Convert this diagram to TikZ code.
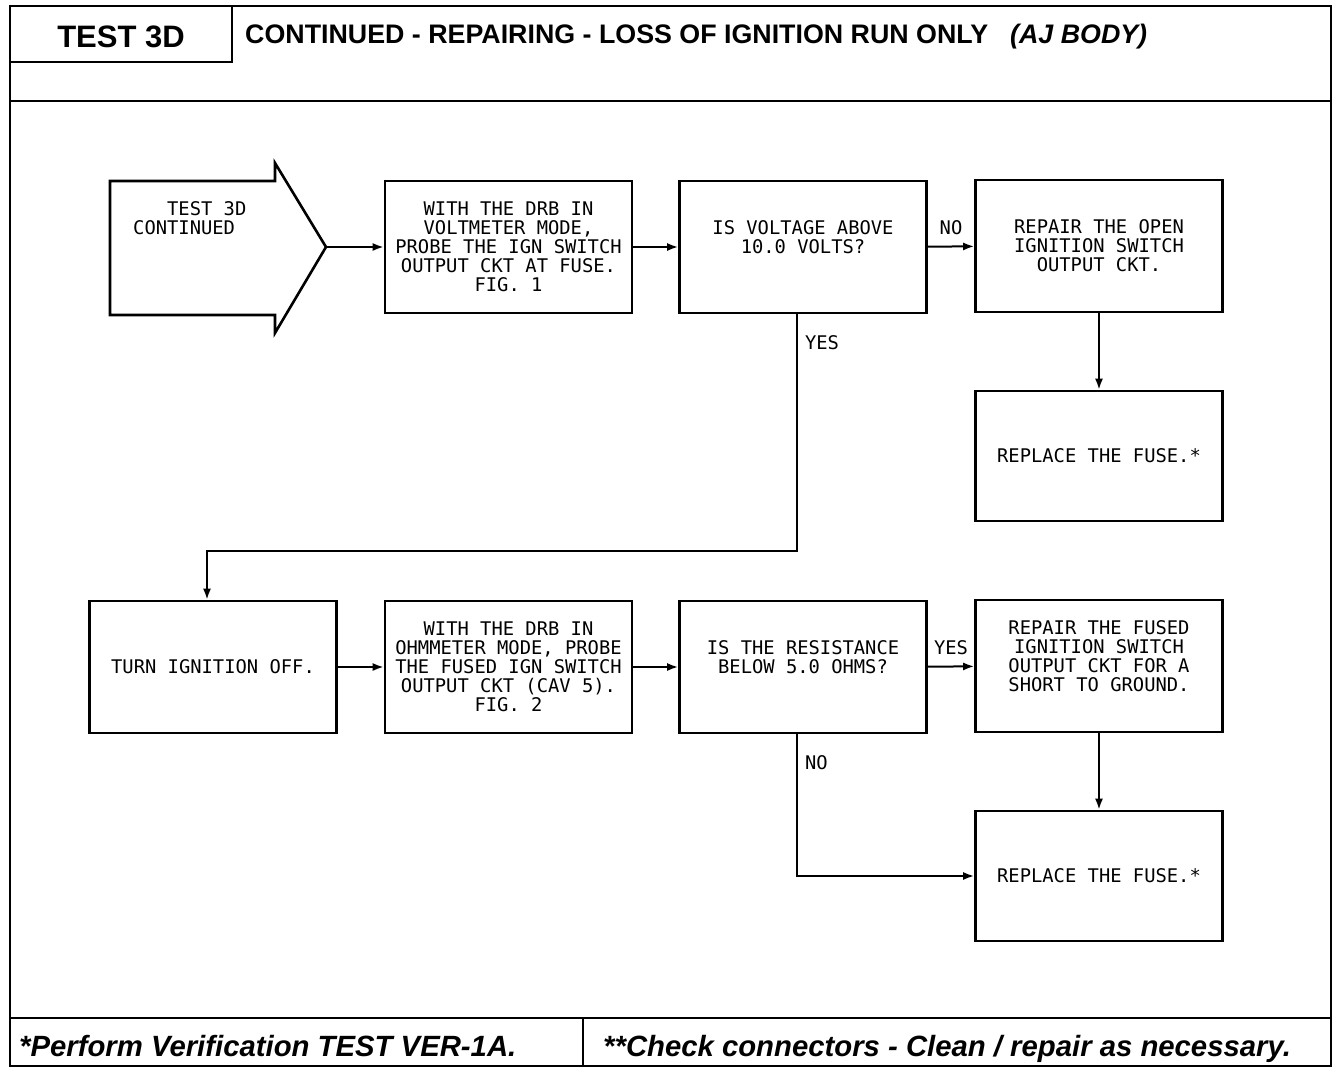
\documentclass[tikz,border=0pt]{standalone}
\usepackage{fontspec}
\usepackage{tikz}
\usetikzlibrary{arrows.meta}
\newfontfamily\plotfont{DejaVu Sans Mono}
\newfontfamily\headfont{Liberation Sans}

\begin{document}
\begin{tikzpicture}[x=1pt, y=-1pt,
  chart/.style={draw, line width=2.6pt, minimum width=247pt, minimum height=132pt, align=center, inner sep=0pt, font=\plotfont\fontsize{18.8}{19}\selectfont},
  flow/.style={line width=2pt, -{Latex[length=11pt, width=8pt]}},
  lbl/.style={inner sep=0pt, font=\plotfont\fontsize{18.8}{19}\selectfont},
  frame/.style={line width=2.6pt},
  title/.style={inner sep=0pt, anchor=base west, font=\headfont\bfseries\fontsize{26.8}{28}\selectfont},
  foot/.style={inner sep=0pt, anchor=base west, font=\headfont\bfseries\itshape\fontsize{29.3}{30}\selectfont}]
  \useasboundingbox (0,0) rectangle (1344,1076);
  \draw[frame] (10,6) rectangle (1331,1066);
  \draw[frame] (10,101) -- (1331,101);
  \draw[frame] (10,1018) -- (1331,1018);
  \draw[frame] (232,6) -- (232,62) -- (10,62);
  \draw[frame] (583,1018) -- (583,1066);
  \node[title, anchor=base, font=\headfont\bfseries\fontsize{31}{32}\selectfont] (testhead) at (121,47) {TEST 3D};
  \node[title] (titlehead) at (245,43) {CONTINUED - REPAIRING - LOSS OF IGNITION RUN ONLY};
  \node[title, font=\headfont\bfseries\itshape\fontsize{26.8}{28}\selectfont] (bodyhead) at (1010,43) {(AJ BODY)};
  \node[foot] (verify) at (19,1056) {*Perform Verification TEST VER-1A.};
  \node[foot] (checkcon) at (603,1056) {**Check connectors - Clean / repair as necessary.};

  \draw[line width=2.6pt, line join=miter] (110,181) -- (275,181) -- (275,163) -- (326,247) -- (275,333) -- (275,315) -- (110,315) -- cycle;
  \coordinate (tip) at (326,247);
  \node[lbl, align=left, anchor=west] (contin) at (133,218) {\phantom{XXX}TEST 3D\\CONTINUED};

  \node[chart] (probev) at (508.5,247) {WITH THE DRB IN\\VOLTMETER MODE,\\PROBE THE IGN SWITCH\\OUTPUT CKT AT FUSE.\\FIG. 1};
  \node[chart] (voltq) at (803,247) {IS VOLTAGE ABOVE\\10.0 VOLTS?\\~};
  \node[chart] (repopen) at (1099,246) {REPAIR THE OPEN\\IGNITION SWITCH\\OUTPUT CKT.};
  \node[chart, minimum height=130pt] (fuse1) at (1099,456) {REPLACE THE FUSE.*};

  \node[chart] (offkey) at (213,667) {TURN IGNITION OFF.};
  \node[chart] (probeo) at (508.5,667) {WITH THE DRB IN\\OHMMETER MODE, PROBE\\THE FUSED IGN SWITCH\\OUTPUT CKT (CAV 5).\\FIG. 2};
  \node[chart] (resq) at (803,667) {IS THE RESISTANCE\\BELOW 5.0 OHMS?\\~};
  \node[chart] (repshort) at (1099,666) {REPAIR THE FUSED\\IGNITION SWITCH\\OUTPUT CKT FOR A\\SHORT TO GROUND.\\~};
  \node[chart, minimum height=130pt] (fuse2) at (1099,876) {REPLACE THE FUSE.*};

  \coordinate (bend) at (0,551);
  \draw[flow] (tip) -- (probev);
  \draw[flow] (probev) -- (voltq);
  \draw[flow] (voltq) -- node[lbl, above=11pt] (nolbl) {NO} (repopen);
  \draw[flow] (repopen) -- (fuse1);
  \draw[flow] ([xshift=-6pt]voltq.south) |- ([xshift=-6pt]offkey.north |- bend) node[lbl, at start, anchor=north west, xshift=7pt, yshift=-20pt] (yeslbl) {YES} -- ([xshift=-6pt]offkey.north);
  \draw[flow] (offkey) -- (probeo);
  \draw[flow] (probeo) -- (resq);
  \draw[flow] (resq) -- node[lbl, above=11pt] (yeslbltwo) {YES} (repshort);
  \draw[flow] (repshort) -- (fuse2);
  \draw[flow] ([xshift=-6pt]resq.south) |- node[lbl, at start, anchor=north west, xshift=7pt, yshift=-20pt] (nolbltwo) {NO} (fuse2);
\end{tikzpicture}
\end{document}
